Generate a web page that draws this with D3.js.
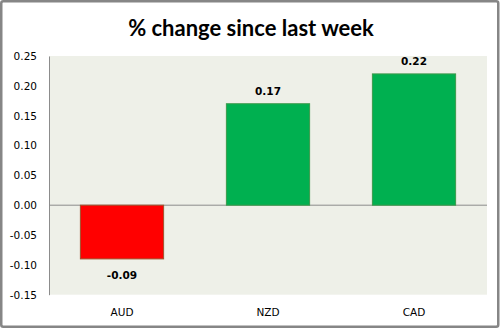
<!DOCTYPE html>
<html><head><meta charset="utf-8">
<script src="https://cdn.jsdelivr.net/npm/d3@7"></script>
<style>body{margin:0;background:#fff}svg{display:block}</style>
</head><body>
<svg id="c" width="502" height="329"></svg>
<script>
const categories = ["AUD", "NZD", "CAD"];
const values = [-0.09, 0.17, 0.22];
const yTicks = [-0.15, -0.10, -0.05, 0.00, 0.05, 0.10, 0.15, 0.20, 0.25];
const title = "% change since last week";

const svg = d3.select("#c");
const W = 502, H = 329;
const m = {left: 49, right: 15, top: 56, bottom: 34.3};
const fmt = d3.formatLocale({decimal: ".", thousands: ",", grouping: [3], currency: ["", ""], minus: "-"}).format(".2f");

svg.append("rect").attr("x", 1.25).attr("y", 1.25).attr("width", 497).attr("height", 325.5)
  .attr("fill", "#fff").attr("stroke", "#868686").attr("stroke-width", 2.5).attr("rx", 2);

const x = d3.scaleBand().domain(categories).range([m.left, W - m.right]).padding(0);
const y = d3.scaleLinear().domain([-0.15, 0.25]).range([H - m.bottom, m.top]);

svg.append("rect").attr("x", m.left).attr("y", m.top)
  .attr("width", W - m.right - m.left).attr("height", H - m.bottom - m.top)
  .attr("fill", "#eef0e8");

svg.append("text").attr("x", 251).attr("y", 36).attr("text-anchor", "middle")
  .attr("font-family", "Lato, 'Open Sans', sans-serif").attr("font-weight", "bold")
  .attr("font-size", 22).attr("fill", "#000").text(title);

const yAxis = d3.axisLeft(y).tickValues(yTicks).tickFormat(fmt).tickSize(0).tickPadding(12);
const gy = svg.append("g").attr("transform", `translate(${m.left},0)`).call(yAxis);
gy.select(".domain").attr("stroke", "#8c8c8c");
gy.selectAll("text").attr("font-family", "'DejaVu Sans', Verdana, sans-serif").attr("font-size", 10.5).attr("fill", "#000");

svg.append("line").attr("x1", m.left).attr("x2", W - m.right).attr("y1", y(0)).attr("y2", y(0))
  .attr("stroke", "#8c8c8c").attr("stroke-width", 1);

const bw = x.bandwidth() * 0.57;
const data = categories.map((c, i) => ({c, v: values[i]}));
svg.selectAll("rect.bar").data(data).enter().append("rect").attr("class", "bar")
  .attr("x", d => x(d.c) + (x.bandwidth() - bw) / 2)
  .attr("y", d => y(Math.max(0, d.v)))
  .attr("width", bw)
  .attr("height", d => Math.abs(y(d.v) - y(0)))
  .attr("fill", d => d.v < 0 ? "#ff0000" : "#00b050")
  .attr("stroke", d => d.v < 0 ? "#a0522d" : "#3c9a4c").attr("stroke-width", 1);

svg.selectAll("text.val").data(data).enter().append("text").attr("class", "val")
  .attr("x", d => x(d.c) + x.bandwidth() / 2)
  .attr("y", d => d.v < 0 ? y(d.v) + 20 : y(d.v) - 9)
  .attr("text-anchor", "middle")
  .attr("font-family", "'DejaVu Sans', Verdana, sans-serif").attr("font-weight", "bold")
  .attr("font-size", 10.5).attr("fill", "#000")
  .text(d => fmt(d.v));

svg.selectAll("text.cat").data(categories).enter().append("text").attr("class", "cat")
  .attr("x", d => x(d) + x.bandwidth() / 2).attr("y", 316)
  .attr("text-anchor", "middle")
  .attr("font-family", "'DejaVu Sans', Verdana, sans-serif")
  .attr("font-size", 10.5).attr("fill", "#000").text(d => d);
</script>
</body></html>
